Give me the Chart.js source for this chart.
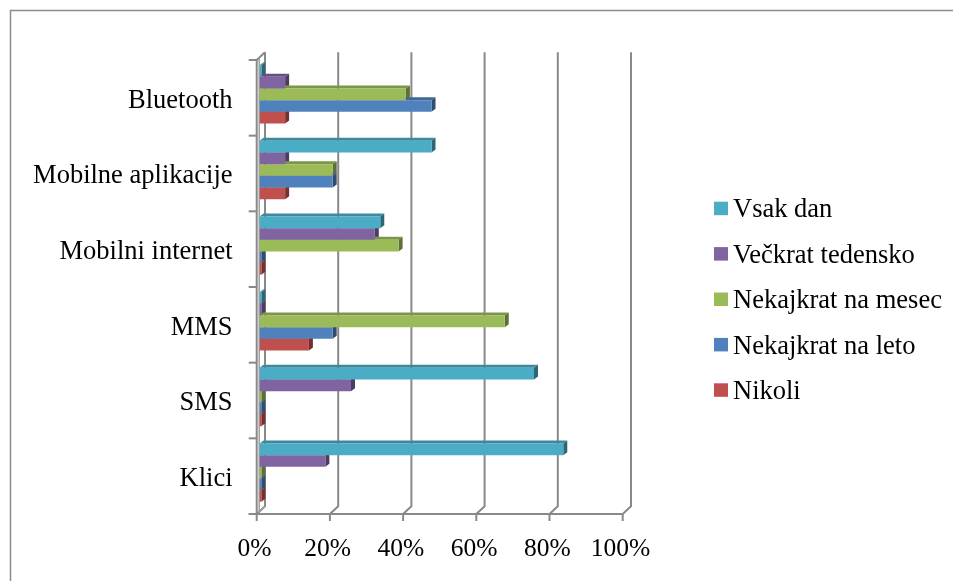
<!DOCTYPE html>
<html><head><meta charset="utf-8">
<script src="https://cdn.jsdelivr.net/npm/chart.js@4/dist/chart.umd.min.js"></script>
<style>html,body{margin:0;padding:0;background:#fff;}#wrap{width:953px;height:581px;position:relative;}</style>
</head><body><div id="wrap"><canvas id="c" width="953" height="581"></canvas></div>
<script>
const categories = ['Bluetooth','Mobilne aplikacije','Mobilni internet','MMS','SMS','Klici'];
const seriesNames = ['Vsak dan','Večkrat tedensko','Nekajkrat na mesec','Nekajkrat na leto','Nikoli'];
const vsakDan         = [0.5, 47, 33, 0.5, 75, 83];
const veckratTedensko = [7, 7, 31.5, 0.5, 25, 18];
const nekajkratNaMesec= [40, 20, 38, 67, 0.5, 0.5];
const nekajkratNaLeto = [47, 20, 0.5, 20, 0.5, 0.5];
const nikoli          = [7, 7, 0.5, 13.5, 0.5, 0.5];
const xTicks = [0, 20, 40, 60, 80, 100];
const seriesValues = [vsakDan, veckratTedensko, nekajkratNaMesec, nekajkratNaLeto, nikoli];
const colors = ['#4BACC6','#8064A2','#9BBB59','#4F81BD','#C0504D'];

const FONT = "'Liberation Serif', 'Times New Roman', serif";
const FRONT = {dx:-2.8, dy:3.5}, BACK = {dx:5.5, dy:-4.3}, BAR = {dx:4, dy:-3};

function shade(hex, f){
  const n = parseInt(hex.slice(1),16);
  const r = Math.round((n>>16)*f), g = Math.round(((n>>8)&255)*f), b = Math.round((n&255)*f);
  return 'rgb('+r+','+g+','+b+')';
}

const wallPlugin = {
  id:'wall3d',
  beforeDatasetsDraw(chart){
    const ctx = chart.ctx, xs = chart.scales.x, ca = chart.chartArea;
    ctx.save();
    ctx.strokeStyle = '#8c8c8c'; ctx.lineWidth = 1.5;
    ctx.strokeRect(10.5, 10.5, 960, 600);
    const fTop = ca.top+FRONT.dy, fBot = ca.bottom+FRONT.dy, bTop = ca.top+BACK.dy, bBot = ca.bottom+BACK.dy;
    ctx.strokeStyle = '#898989'; ctx.lineWidth = 2;
    xTicks.forEach(v => {
      const p = xs.getPixelForValue(v), bx = p+BACK.dx, fx = p+FRONT.dx;
      ctx.beginPath(); ctx.moveTo(bx,bTop); ctx.lineTo(bx,bBot); ctx.lineTo(fx,fBot); ctx.stroke();
      ctx.beginPath(); ctx.moveTo(fx,fBot); ctx.lineTo(fx,fBot+7); ctx.stroke();
    });
    const f0 = xs.getPixelForValue(0)+FRONT.dx, f100 = xs.getPixelForValue(100)+FRONT.dx;
    const b0 = xs.getPixelForValue(0)+BACK.dx;
    ctx.beginPath(); ctx.moveTo(f0-8,fBot); ctx.lineTo(f100,fBot); ctx.stroke();
    ctx.beginPath(); ctx.moveTo(f0,fBot); ctx.lineTo(f0,fTop); ctx.lineTo(b0,bTop); ctx.stroke();
    ctx.lineWidth = 1.5; ctx.strokeStyle = '#a0a0a0';
    ctx.beginPath(); ctx.moveTo(f0+2.5,fTop-2.5); ctx.lineTo(f0+2.5,fBot-2.5); ctx.lineTo(b0,bBot); ctx.stroke();
    ctx.lineWidth = 2; ctx.strokeStyle = '#898989';
    const n = categories.length;
    for (let i=0;i<=n;i++){
      const y = ca.top + i*(ca.bottom-ca.top)/n + FRONT.dy;
      ctx.beginPath(); ctx.moveTo(f0-8,y); ctx.lineTo(f0,y); ctx.stroke();
    }
    chart.data.datasets.forEach((ds, di) => {
      const meta = chart.getDatasetMeta(di);
      meta.data.forEach(el => {
        const {x, y, base, height} = el.getProps(['x','y','base','height'], true);
        const top = y-height/2, bot = y+height/2, right = Math.max(x, base), left = Math.min(x, base);
        ctx.fillStyle = shade(colors[di], 0.8);
        ctx.beginPath(); ctx.moveTo(left,top); ctx.lineTo(right,top); ctx.lineTo(right+BAR.dx,top+BAR.dy); ctx.lineTo(left+BAR.dx,top+BAR.dy); ctx.closePath(); ctx.fill();
        ctx.fillStyle = shade(colors[di], 0.6);
        ctx.beginPath(); ctx.moveTo(right,top); ctx.lineTo(right+BAR.dx,top+BAR.dy); ctx.lineTo(right+BAR.dx,bot+BAR.dy); ctx.lineTo(right,bot); ctx.closePath(); ctx.fill();
      });
    });
    ctx.restore();
  },
  afterDraw(chart){
    const ctx = chart.ctx;
    ctx.save();
    ctx.font = "26.5px " + FONT;
    ctx.textBaseline = 'alphabetic'; ctx.textAlign = 'left';
    chart.data.datasets.forEach((ds, i) => {
      const base = 217.3 + i*45.4;
      ctx.fillStyle = ds.backgroundColor;
      ctx.fillRect(714, base-15.6, 14, 13.5);
      ctx.fillStyle = '#000';
      ctx.fillText(ds.label, 733, base);
    });
    ctx.restore();
  }
};

new Chart(document.getElementById('c'), {
  type:'bar',
  data:{
    labels: categories,
    datasets: seriesNames.map((name,i)=>({
      label:name, data:seriesValues[i], backgroundColor:colors[i], borderWidth:0,
      categoryPercentage:0.77, barPercentage:1
    }))
  },
  options:{
    indexAxis:'y', responsive:false, devicePixelRatio:1, animation:false,
    layout:{padding:{left:0, top:56.5, right:327.5, bottom:0}},
    plugins:{legend:{display:false}, tooltip:{enabled:false}},
    scales:{
      x:{min:0, max:100, grid:{display:false, drawTicks:false}, border:{display:false},
         afterFit(s){ s.height = 70.5; },
         afterBuildTicks(s){ s.ticks = xTicks.map(v=>({value:v})); },
         ticks:{padding:23, labelOffset:-5, color:'#000', font:{family:FONT, size:25.5},
                callback:(v)=>v+'%'}},
      y:{grid:{display:false, drawTicks:false}, border:{display:false},
         afterFit(s){ s.width = 259.5; },
         ticks:{padding:27, labelOffset:6.5, color:'#000', font:{family:FONT, size:26.5}}}
    }
  },
  plugins:[wallPlugin]
});
</script></body></html>
